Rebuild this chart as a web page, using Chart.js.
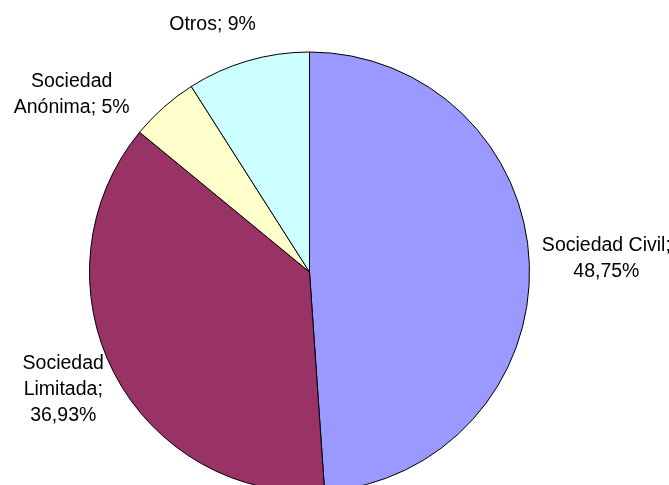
<!DOCTYPE html>
<html>
<head>
<meta charset="utf-8">
<script src="https://cdn.jsdelivr.net/npm/chart.js@4/dist/chart.umd.min.js"></script>
<style>
  html, body { margin: 0; padding: 0; background: #ffffff; }
  #wrap { width: 669px; height: 485px; }
</style>
</head>
<body>
<div id="wrap"><canvas id="c" width="669" height="485"></canvas></div>
<script>
// Distribución por forma jurídica
const categories = ['Sociedad Civil', 'Sociedad Limitada', 'Sociedad Anónima', 'Otros'];
const shares = [48.75, 36.93, 5, 9];
const sliceColors = ['#9999FF', '#993366', '#FFFFCC', '#CCFFFF'];

// How each label's text is broken into lines
const labelBreaks = [
  (n, p) => ['Sociedad Civil;', p],
  (n, p) => ['Sociedad', 'Limitada;', p],
  (n, p) => ['Sociedad', 'Anónima; ' + p],
  (n, p) => [n + '; ' + p]
];
// Shift of each label block from the point just outside its slice
const labelShift = [[65, -5], [-40, 11], [-84, -4], [-32, -25]];

const fmtPct = v => String(v).replace('.', ',') + '%';

const sliceLabels = {
  id: 'sliceLabels',
  afterDatasetsDraw(chart) {
    const ctx = chart.ctx;
    const meta = chart.getDatasetMeta(0);
    ctx.save();
    ctx.font = '19.5px "Liberation Sans", Arial, sans-serif';
    ctx.fillStyle = '#000000';
    ctx.textAlign = 'center';
    ctx.textBaseline = 'middle';
    const lh = 26;
    meta.data.forEach((arc, i) => {
      const p = arc.getProps(['x', 'y', 'startAngle', 'endAngle', 'outerRadius'], true);
      const mid = (p.startAngle + p.endAngle) / 2;
      const r = p.outerRadius + 12;
      const ax = p.x + Math.cos(mid) * r;
      const ay = p.y + Math.sin(mid) * r;
      const lines = labelBreaks[i](categories[i], fmtPct(shares[i]));
      const cx = ax + labelShift[i][0];
      const cy = ay + labelShift[i][1];
      const y0 = cy - (lines.length - 1) * lh / 2;
      lines.forEach((t, k) => ctx.fillText(t, cx, y0 + k * lh));
    });
    ctx.restore();
  }
};

new Chart(document.getElementById('c'), {
  type: 'pie',
  data: {
    labels: categories,
    datasets: [{
      data: shares,
      backgroundColor: sliceColors,
      borderColor: '#000000',
      borderWidth: 1,
      clip: false
    }]
  },
  options: {
    responsive: false,
    animation: false,
    radius: 220,
    rotation: 0,
    layout: { padding: { top: 59, right: 50, bottom: 0, left: 0 } },
    plugins: {
      legend: { display: false },
      tooltip: { enabled: false }
    }
  },
  plugins: [sliceLabels]
});
</script>
</body>
</html>
